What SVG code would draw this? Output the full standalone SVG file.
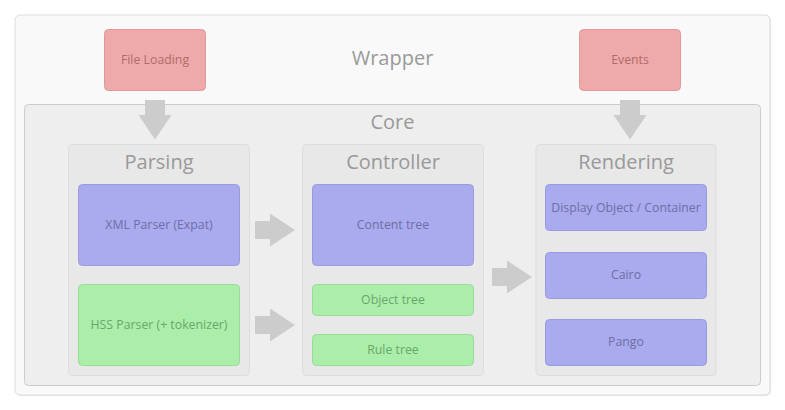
<svg xmlns="http://www.w3.org/2000/svg" width="785" height="410" viewBox="0 0 785 410">
<style>
text{font-family:"Open Sans","Noto Sans",sans-serif;text-anchor:middle}
.title{font-size:20px;fill:#999999}
.lbl{font-size:12.3px}
.red rect{fill:#eeaaaa;stroke:#e29898}
.red text{fill:#b06a6a}
.blue rect{fill:#aaaaee;stroke:#9a9ae0}
.blue text{fill:#6e6ea6}
.green rect{fill:#aaeeaa;stroke:#98dc98}
.green text{fill:#6aa66a}
.grp>rect{fill:#e8e8e8;stroke:#dddddd}
.arrow{fill:#cccccc}
</style>
<rect width="785" height="410" fill="#ffffff"/>
<g id="wrapper">
<rect x="16" y="16" width="755" height="380" rx="5" fill="#e6e6e6"/>
<rect x="15" y="15" width="755" height="380" rx="5" fill="#f9f9f9" stroke="#dddddd"/>
<text class="title" x="392.5" y="65">Wrapper</text>
</g>
<g id="core">
<rect x="24.5" y="104.5" width="736" height="281" rx="4" fill="#eeeeee" stroke="#cccccc"/>
<text class="title" x="392.5" y="129">Core</text>
</g>
<g id="file-loading" class="red">
<rect x="104.5" y="29.5" width="101" height="61" rx="4"/>
<text class="lbl" x="155" y="64">File Loading</text>
</g>
<g id="events" class="red">
<rect x="579.5" y="29.5" width="101" height="61" rx="4"/>
<text class="lbl" x="630" y="64">Events</text>
</g>
<g id="parsing" class="grp">
<rect x="68.5" y="144.5" width="181" height="231" rx="4"/>
<text class="title" x="159" y="169">Parsing</text>
</g>
<g id="controller" class="grp">
<rect x="302.5" y="144.5" width="181" height="231" rx="4"/>
<text class="title" x="393" y="169">Controller</text>
</g>
<g id="rendering" class="grp">
<rect x="536" y="144.5" width="180" height="231" rx="4"/>
<text class="title" x="626" y="169">Rendering</text>
</g>
<g id="xml-parser" class="blue">
<rect x="78.5" y="184.5" width="161" height="81" rx="4"/>
<text class="lbl" x="159" y="229">XML Parser (Expat)</text>
</g>
<g id="hss-parser" class="green">
<rect x="78.5" y="284.5" width="161" height="81" rx="4"/>
<text class="lbl" x="159" y="329">HSS Parser (+ tokenizer)</text>
</g>
<g id="content-tree" class="blue">
<rect x="312.5" y="184.5" width="161" height="81" rx="4"/>
<text class="lbl" x="393" y="229">Content tree</text>
</g>
<g id="object-tree" class="green">
<rect x="312.5" y="284.5" width="161" height="31" rx="4"/>
<text class="lbl" x="393" y="304">Object tree</text>
</g>
<g id="rule-tree" class="green">
<rect x="312.5" y="334.5" width="161" height="31" rx="4"/>
<text class="lbl" x="393" y="354">Rule tree</text>
</g>
<g id="display-object" class="blue">
<rect x="545.5" y="184.5" width="161" height="46" rx="4"/>
<text class="lbl" x="626" y="212">Display Object / Container</text>
</g>
<g id="cairo" class="blue">
<rect x="545.5" y="252.5" width="161" height="46" rx="4"/>
<text class="lbl" x="626" y="279">Cairo</text>
</g>
<g id="pango" class="blue">
<rect x="545.5" y="319.5" width="161" height="46" rx="4"/>
<text class="lbl" x="626" y="346">Pango</text>
</g>
<g id="connectors" class="arrow">
<path d="M145,100 H165 V115 H171.5 L155,139.5 L138.5,115 H145 Z"/>
<path d="M620,100 H640 V115 H646.5 L630,139.5 L613.5,115 H620 Z"/>
<path d="M255,221 H270 V213.5 L295,230 L270,246.5 V239 H255 Z"/>
<path d="M255,316 H270 V308.5 L295,325 L270,341.5 V334 H255 Z"/>
<path d="M492,268 H507 V260.5 L532,277 L507,293.5 V286 H492 Z"/>
</g>
</svg>
